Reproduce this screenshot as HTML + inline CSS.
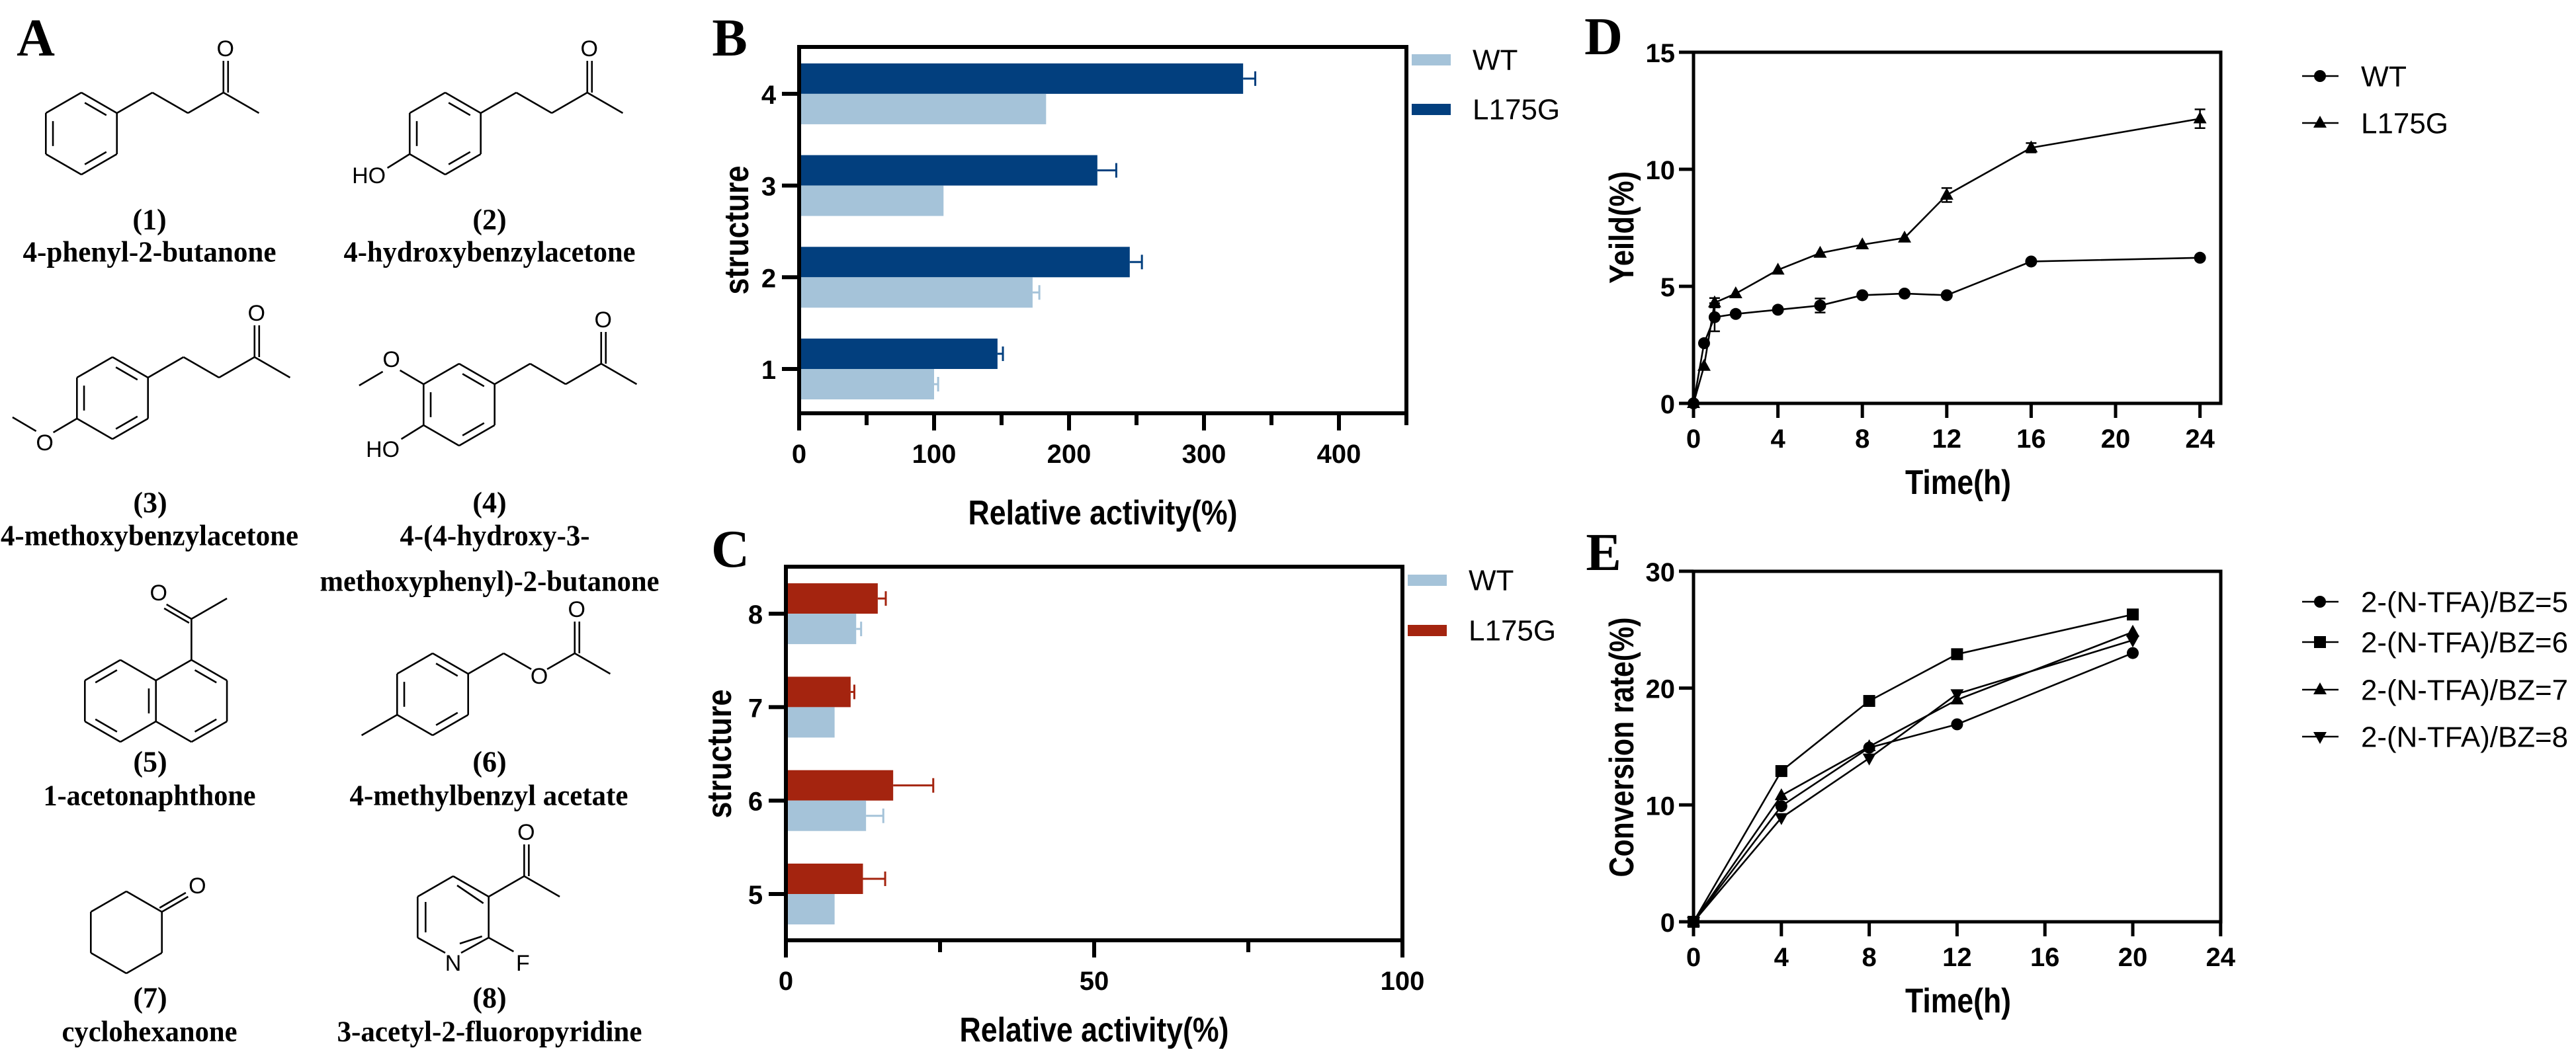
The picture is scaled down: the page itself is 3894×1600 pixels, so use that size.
<!DOCTYPE html>
<html><head><meta charset="utf-8"><style>
html,body{margin:0;padding:0;background:#fff;}
svg{display:block;}
text{font-family:"Liberation Sans",sans-serif;}
.serif{font-family:"Liberation Serif",serif;font-weight:bold;}
.tick{font-size:40px;font-weight:bold;}
.title{font-size:52px;font-weight:bold;}
.leg{font-size:44px;}
.chem{font-size:34px;}
</style></head><body>
<svg id="fig" width="3894" height="1600" viewBox="0 0 3894 1600" xmlns="http://www.w3.org/2000/svg"></svg>
<script>
// ---- chart data ----
const categoriesB = ['1','2','3','4'];
const wtB = [100,173,107,183];
const wtErrB = [3,5,0,0];
const mutB = [147,245,221,329];
const mutErrB = [4,9,14,9];
const ticksB = [0,100,200,300,400];

const categoriesC = ['5','6','7','8'];
const wtC = [7.9,13.0,7.9,11.4];
const wtErrC = [0,2.8,0,0.8];
const mutC = [12.5,17.4,10.5,14.9];
const mutErrC = [3.6,6.5,0.6,1.3];
const ticksC = [0,50,100];

const timeD = [0,0.5,1,2,4,6,8,10,12,16,24];
const wtD = [0,2.57,3.68,3.82,4.0,4.18,4.62,4.69,4.62,6.06,6.22];
const wtErrD = [0,0,0.6,0,0,0.3,0,0,0,0,0];
const mutD = [0,1.59,4.30,4.69,5.70,6.42,6.78,7.07,8.9,10.92,12.16];
const mutErrD = [0,0,0.2,0,0,0,0,0,0.3,0.2,0.4];
const xTicksD = [0,4,8,12,16,20,24];
const yTicksD = [0,5,10,15];

const timeE = [0,4,8,12,20];
const bz5 = [0,9.9,14.9,16.9,23.0];
const bz6 = [0,12.9,18.9,22.9,26.3];
const bz7 = [0,10.8,15.0,19.0,24.8];
const bz8 = [0,8.9,14.0,19.5,24.1];
const seriesNamesE = ['2-(N-TFA)/BZ=5','2-(N-TFA)/BZ=6','2-(N-TFA)/BZ=7','2-(N-TFA)/BZ=8'];
const xTicksE = [0,4,8,12,16,20,24];
const yTicksE = [0,10,20,30];

const NS = 'http://www.w3.org/2000/svg';
const svg = document.getElementById('fig');
function mk(tag, attrs, parent){
  const e = document.createElementNS(NS, tag);
  for (const k in attrs) e.setAttribute(k, attrs[k]);
  (parent||svg).appendChild(e);
  return e;
}
function txt(s, x, y, cls, anchor, parent, extra){
  const a = {x:x, y:y, class:cls, 'text-anchor':anchor||'middle', 'dominant-baseline':'central'};
  if (extra) for (const k in extra) a[k]=extra[k];
  const t = mk('text', a, parent);
  t.textContent = s;
  return t;
}
const WTC = '#a5c3d9', NAVY = '#023f7e', RED = '#a4240f';

// ---------- panel labels ----------
[['A',54,58],['B',1103,58],['C',1104,831],['D',2424,56],['E',2424,836]].forEach(p=>{
  const t = txt(p[0], p[1], p[2], 'serif', 'middle', svg, {'font-size':80});
  
  
});

// ---------- panel A: structures ----------
const gA = mk('g', {stroke:'#000','stroke-width':2.6, fill:'none'});


const L = 62, H = 0.866*L;
function bond(x1,y1,x2,y2){
  const b = mk('line', {x1:x1,y1:y1,x2:x2,y2:y2}, gA);
  
  
}
function dbl(x1,y1,x2,y2,off){
  const dx=x2-x1, dy=y2-y1, len=Math.hypot(dx,dy), nx=-dy/len*off, ny=dx/len*off;
  bond(x1,y1,x2,y2); bond(x1+nx,y1+ny,x2+nx,y2+ny);
}
function hexV(cx,cy){
  return [[cx,cy-L],[cx+H,cy-L/2],[cx+H,cy+L/2],[cx,cy+L],[cx-H,cy+L/2],[cx-H,cy-L/2]];
}
function ring(cx,cy,inner,skip){
  const v = hexV(cx,cy);
  for (let i=0;i<6;i++){ if (skip && skip.includes(i)) continue; const a=v[i], b=v[(i+1)%6]; bond(a[0],a[1],b[0],b[1]); }
  (inner||[]).forEach(i=>{
    const a=v[i], b=v[(i+1)%6];
    const ia=[a[0]+(cx-a[0])*0.2,a[1]+(cy-a[1])*0.2], ib=[b[0]+(cx-b[0])*0.2,b[1]+(cy-b[1])*0.2];
    const sa=[ia[0]+(ib[0]-ia[0])*0.12, ia[1]+(ib[1]-ia[1])*0.12], sb=[ib[0]+(ia[0]-ib[0])*0.12, ib[1]+(ia[1]-ib[1])*0.12];
    bond(sa[0],sa[1],sb[0],sb[1]);
  });
  return v;
}
function atom(s,x,y){
  const t = txt(s,x,y,'chem','middle',svg);
  
  
}
function butanoneChain(v1){
  const p1=[v1[0]+H,v1[1]-L/2], p2=[p1[0]+H,p1[1]+L/2], p3=[p2[0]+H,p2[1]-L/2], p4=[p3[0]+H,p3[1]+L/2];
  bond(v1[0],v1[1],p1[0],p1[1]); bond(p1[0],p1[1],p2[0],p2[1]); bond(p2[0],p2[1],p3[0],p3[1]); bond(p3[0],p3[1],p4[0],p4[1]);
  dbl(p3[0],p3[1],p3[0],p3[1]-L+14,7);
  atom('O',p3[0]+3,p3[1]-L-4);
}
let v = ring(123,202,[0,2,4]); butanoneChain(v[1]);
v = ring(673,202,[0,2,4]); butanoneChain(v[1]);
bond(v[4][0],v[4][1],v[4][0]-H+20,v[4][1]+L/2-10); atom('HO',v[4][0]-H-8,v[4][1]+L/2+2);
v = ring(170,602,[0,2,4]); butanoneChain(v[1]);
bond(v[4][0],v[4][1],v[4][0]-H+18,v[4][1]+L/2-10); atom('O',v[4][0]-H+5,v[4][1]+L/2+6);
bond(v[4][0]-H-8,v[4][1]+L/2-12,v[4][0]-2*H+10,v[4][1]-2);
v = ring(694,612,[0,2,4]); butanoneChain(v[1]);
bond(v[5][0],v[5][1],v[5][0]-H+18,v[5][1]-L/2+10); atom('O',v[5][0]-H+5,v[5][1]-L/2-6);
bond(v[5][0]-H-8,v[5][1]-L/2+12,v[5][0]-2*H+10,v[5][1]+2);
bond(v[4][0],v[4][1],v[4][0]-H+20,v[4][1]+L/2-10); atom('HO',v[4][0]-H-8,v[4][1]+L/2+6);
let vl = ring(182,1060,[1,3,5]); let vr = ring(182+2*H,1060,[0,2],[4]);
bond(vr[0][0],vr[0][1],vr[0][0],vr[0][1]-L);
dbl(vr[0][0],vr[0][1]-L,vr[0][0]-H+16,vr[0][1]-L-L/2+9,-7);
atom('O',vr[0][0]-H+4,vr[0][1]-1.5*L-8);
bond(vr[0][0],vr[0][1]-L,vr[0][0]+H,vr[0][1]-1.5*L);
v = ring(654,1050,[0,2,4]);
bond(v[4][0],v[4][1],v[4][0]-H,v[4][1]+L/2);
let q1=[v[1][0]+H,v[1][1]-L/2]; bond(v[1][0],v[1][1],q1[0],q1[1]);
let qO=[q1[0]+H,q1[1]+L/2]; bond(q1[0],q1[1],qO[0]-12,qO[1]-7); atom('O',qO[0],qO[1]+4);
let qC=[qO[0]+H,qO[1]-L/2]; bond(qO[0]+12,qO[1]-7,qC[0],qC[1]);
dbl(qC[0],qC[1],qC[0],qC[1]-L+14,7); atom('O',qC[0]+3,qC[1]-L-4);
bond(qC[0],qC[1],qC[0]+H,qC[1]+L/2);
v = ring(191,1410,[]);
dbl(v[1][0],v[1][1],v[1][0]+H-14,v[1][1]-L/2+8,-7); atom('O',v[1][0]+H,v[1][1]-L/2-8);
v = hexV(685,1387);
[[0,1],[1,2],[4,5],[5,0]].forEach(e=>bond(v[e[0]][0],v[e[0]][1],v[e[1]][0],v[e[1]][1]));
bond(v[2][0],v[2][1],v[3][0]+12,v[3][1]-8); bond(v[3][0]-12,v[3][1]-8,v[4][0],v[4][1]);
atom('N',v[3][0],v[3][1]+8);
bond(v[0][0]+6,v[0][1]+14,v[1][0]-8,v[1][1]+10);
bond(v[2][0]-10,v[2][1]-2,v[3][0]+10,v[3][1]-22);
bond(v[4][0]+12,v[4][1]-8,v[5][0]+12,v[5][1]+8);
bond(v[2][0],v[2][1],v[2][0]+H-16,v[2][1]+L/2-10); atom('F',v[2][0]+H-2,v[2][1]+L/2+8);
let a1=[v[1][0]+H,v[1][1]-L/2]; bond(v[1][0],v[1][1],a1[0],a1[1]);
dbl(a1[0],a1[1],a1[0],a1[1]-L+14,7); atom('O',a1[0]+3,a1[1]-L-4);
bond(a1[0],a1[1],a1[0]+H,a1[1]+L/2);

const names = [
 ['(1)',226,332,0],['4-phenyl-2-butanone',226,381,383],
 ['(2)',740,332,0],['4-hydroxybenzylacetone',740,381,441],
 ['(3)',227,760,0],['4-methoxybenzylacetone',226,810,450],
 ['(4)',740,760,0],['4-(4-hydroxy-3-',748,810,287],['methoxyphenyl)-2-butanone',740,879,513],
 ['(5)',227,1152,0],['1-acetonaphthone',226,1203,321],
 ['(6)',740,1152,0],['4-methylbenzyl acetate',739,1203,421],
 ['(7)',227,1509,0],['cyclohexanone',226,1560,265],
 ['(8)',740,1509,0],['3-acetyl-2-fluoropyridine',740,1560,461]
];
names.forEach(n=>{
  const ex = {'font-size':44};
  if (n[3]) { ex.textLength = n[3]; ex.lengthAdjust = 'spacingAndGlyphs'; }
  const t = txt(n[0], n[1], n[2], 'serif', 'middle', svg, ex);
  
  
});

// ---------- generic bar chart ----------
function barChart(opt){
  const g = mk('g', {});
  
  
  const xs = v => opt.x0 + v*opt.k;
  const ys = i => opt.yFirst - i*opt.step;
  opt.cats.forEach((c,i)=>{
    const yc = ys(i);
    const bm = mk('rect', {x:xs(0), y:yc-opt.bh, width:xs(opt.mut[i])-xs(0), height:opt.bh, fill:opt.mutColor}, g);
    
    
    const bw = mk('rect', {x:xs(0), y:yc, width:xs(opt.wt[i])-xs(0), height:opt.bh, fill:WTC}, g);
    
    
    [[opt.mut[i],opt.mutErr[i],yc-opt.bh/2,opt.mutColor,'l175g'],[opt.wt[i],opt.wtErr[i],yc+opt.bh/2,WTC,'wt']].forEach(e=>{
      if (e[1]<=0) return;
      const eb = mk('path', {d:`M${xs(e[0])},${e[2]}H${xs(e[0]+e[1])}M${xs(e[0]+e[1])},${e[2]-11}V${e[2]+11}`, stroke:e[3], 'stroke-width':3, fill:'none'}, g);
      
      
    });
    const tk = mk('line', {x1:opt.x0-3, y1:yc, x2:opt.x0-26, y2:yc, stroke:'#000','stroke-width':6}, g);
    
    
    const tl = txt(c, opt.x0-46, yc+2, 'tick', 'middle', g);
    
    
  });
  const fr = mk('rect', {x:opt.x0, y:opt.top, width:opt.right-opt.x0, height:opt.bottom-opt.top, fill:'none', stroke:'#000','stroke-width':6}, g);
  
  
  opt.ticks.forEach(t=>{
    const tk = mk('line', {x1:xs(t), y1:opt.bottom, x2:xs(t), y2:opt.bottom+26, stroke:'#000','stroke-width':6}, g);
    
    
    const tl = txt(String(t), xs(t), opt.bottom+62, 'tick', 'middle', g);
    
    
  });
  opt.minor.forEach(t=>{
    const tk = mk('line', {x1:xs(t), y1:opt.bottom, x2:xs(t), y2:opt.bottom+18, stroke:'#000','stroke-width':6}, g);
    
    
  });
  const xt = txt('Relative activity(%)', opt.titleX, opt.titleY, 'title', 'middle', g, {textLength:407, lengthAdjust:'spacingAndGlyphs'});
  
  
  const yt = txt('structure', 0, 0, 'title', 'middle', g, {transform:`translate(${opt.ylabX},${opt.ylabY}) rotate(-90)`, textLength:195, lengthAdjust:'spacingAndGlyphs', 'font-size':50});
  
  
  [['WT',WTC,opt.legY[0]],['L175G',opt.mutColor,opt.legY[1]]].forEach(l=>{
    const sw = mk('rect', {x:opt.right+8, y:l[2]-8, width:59, height:17, fill:l[1]}, g);
    
    
    const lt = txt(l[0], opt.right+100, l[2]+1, 'leg', 'start', g);
    
    
  });
}
barChart({name:'chart-b', cats:categoriesB, wt:wtB, wtErr:wtErrB, mut:mutB, mutErr:mutErrB, ticks:ticksB, minor:[50,150,250,350,450],
  x0:1208, k:2.04, yFirst:558, step:138.7, bh:46, top:71, bottom:625, right:2126, mutColor:NAVY,
  titleX:1667, titleY:776, ylabX:1114, ylabY:348, legY:[90,165]});
barChart({name:'chart-c', cats:categoriesC, wt:wtC, wtErr:wtErrC, mut:mutC, mutErr:mutErrC, ticks:ticksC, minor:[25,75],
  x0:1188, k:9.32, yFirst:1352, step:141.3, bh:46, top:857, bottom:1422, right:2120, mutColor:RED,
  titleX:1654, titleY:1558, ylabX:1088, ylabY:1140, legY:[877,953]});

// ---------- line charts ----------
function marker(shape, x, y, g, nm){
  let m;
  if (shape==='circle') m = mk('circle', {cx:x, cy:y, r:9, fill:'#000'}, g);
  else if (shape==='square') m = mk('rect', {x:x-9, y:y-9, width:18, height:18, fill:'#000'}, g);
  else if (shape==='up') m = mk('path', {d:`M${x},${y-11}L${x+10},${y+7}L${x-10},${y+7}Z`, fill:'#000'}, g);
  else m = mk('path', {d:`M${x},${y+11}L${x+10},${y-7}L${x-10},${y-7}Z`, fill:'#000'}, g);
  
  
}
function lineChart(opt){
  const g = mk('g', {});
  
  
  const xs = t => opt.x0 + t*opt.kx, ys = v => opt.y0 - v*opt.ky;
  const fr = mk('rect', {x:opt.x0, y:opt.top, width:opt.right-opt.x0, height:opt.y0-opt.top, fill:'none', stroke:'#000','stroke-width':5}, g);
  
  
  opt.xt.forEach(t=>{
    const tk = mk('line', {x1:xs(t), y1:opt.y0, x2:xs(t), y2:opt.y0+22, stroke:'#000','stroke-width':5}, g);
    
    
    const tl = txt(String(t), xs(t), opt.y0+54, 'tick', 'middle', g);
    
    
  });
  opt.yt.forEach(t=>{
    const tk = mk('line', {x1:opt.x0, y1:ys(t), x2:opt.x0-22, y2:ys(t), stroke:'#000','stroke-width':5}, g);
    
    
    const tl = txt(String(t), opt.x0-28, ys(t)+2, 'tick', 'end', g);
    
    
  });
  const xt = txt('Time(h)', opt.x0+400, opt.y0+120, 'title', 'middle', g, {textLength:160, lengthAdjust:'spacingAndGlyphs'});
  
  
  const yt = txt(opt.ylab, 0, 0, 'title', 'middle', g, {transform:`translate(2452,${opt.ylabY}) rotate(-90)`, textLength:opt.ylabLen, lengthAdjust:'spacingAndGlyphs', 'font-size':56});
  
  
  opt.series.forEach((s,si)=>{
    const pts = opt.time.map((t,i)=>xs(t)+','+ys(s.vals[i])).join(' ');
    const pl = mk('polyline', {points:pts, fill:'none', stroke:'#000','stroke-width':2.6}, g);
    
    
    opt.time.forEach((t,i)=>{
      const e = s.err ? s.err[i] : 0;
      if (e>0){
        const eb = mk('path', {d:`M${xs(t)},${ys(s.vals[i]-e)}V${ys(s.vals[i]+e)}M${xs(t)-8},${ys(s.vals[i]-e)}h16M${xs(t)-8},${ys(s.vals[i]+e)}h16`, stroke:'#000','stroke-width':2.5, fill:'none'}, g);
        
        
      }
      marker(s.shape, xs(t), ys(s.vals[i]), g, 'point-' + s.key);
    });
    const ly = opt.legY[si];
    const ll = mk('line', {x1:3480, y1:ly, x2:3535, y2:ly, stroke:'#000','stroke-width':2.6}, g);
    
    
    marker(s.shape, 3507, ly, g, 'legend-marker-' + s.key);
    const lt = txt(s.label, 3569, ly+1, 'leg', 'start', g, {textLength:s.len, lengthAdjust:'spacingAndGlyphs'});
    
    
  });
}
lineChart({name:'chart-d', x0:2560, kx:31.9, y0:610, ky:35.4, top:79, right:3357, xt:xTicksD, yt:yTicksD, time:timeD,
  ylab:'Yeild(%)', ylabY:344, ylabLen:170, legY:[115,186],
  series:[{key:'wt', label:'WT', vals:wtD, err:wtErrD, shape:'circle', len:69},
          {key:'l175g', label:'L175G', vals:mutD, err:mutErrD, shape:'up', len:132}]});
lineChart({name:'chart-e', x0:2560, kx:33.2, y0:1394, ky:17.67, top:864, right:3357, xt:xTicksE, yt:yTicksE, time:timeE,
  ylab:'Conversion rate(%)', ylabY:1130, ylabLen:393, legY:[910,971,1043,1114],
  series:[{key:'bz5', label:seriesNamesE[0], vals:bz5, shape:'circle', len:313},
          {key:'bz6', label:seriesNamesE[1], vals:bz6, shape:'square', len:313},
          {key:'bz7', label:seriesNamesE[2], vals:bz7, shape:'up', len:313},
          {key:'bz8', label:seriesNamesE[3], vals:bz8, shape:'down', len:313}]});
</script>
</body></html>
